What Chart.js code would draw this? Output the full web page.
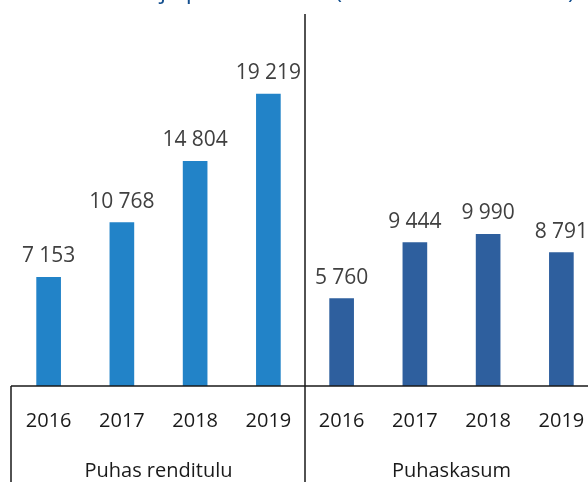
<!DOCTYPE html>
<html>
<head>
<meta charset="utf-8">
<script src="https://cdn.jsdelivr.net/npm/chart.js@4"></script>
<style>
  html, body { margin: 0; padding: 0; background: #fff; overflow: hidden; }
  #wrap { position: relative; width: 612px; height: 482px; }
</style>
</head>
<body>
<div id="wrap"><canvas id="chart" width="612" height="482"></canvas></div>
<script>
const years = ['2016', '2017', '2018', '2019'];
const groups = ['Puhas renditulu', 'Puhaskasum'];
const rentalIncome = [7153, 10768, 14804, 19219];
const netProfit = [5760, 9444, 9990, 8791];
const titleText = 'Puhas renditulu ja puhaskasum (tuhandetes eurodes)';

const colors = ['#2283c8', '#2e5f9e'];
const FONT = '"Open Sans", "Noto Sans", sans-serif';

const labels = years.concat(years);
const values = rentalIncome.concat(netProfit);
const barColors = values.map((_, i) => i < years.length ? colors[0] : colors[1]);

function fmt(v) {
  return String(v).replace(/\B(?=(\d{3})+(?!\d))/g, ' ');
}

const extras = {
  id: 'extras',
  afterDraw(chart) {
    const ctx = chart.ctx;
    const area = chart.chartArea;
    const x = chart.scales.x;
    const H = chart.height;
    ctx.save();

    // value labels
    const meta = chart.getDatasetMeta(0);
    ctx.font = '21px ' + FONT;
    ctx.fillStyle = '#404040';
    ctx.textAlign = 'center';
    ctx.textBaseline = 'alphabetic';
    meta.data.forEach((bar, i) => {
      ctx.fillText(fmt(values[i]), bar.x, bar.y - 15);
    });

    // axis lines
    ctx.strokeStyle = '#1a1a1a';
    ctx.lineWidth = 1.5;
    const sep = (x.getPixelForValue(3) + x.getPixelForValue(4)) / 2;
    ctx.beginPath();
    ctx.moveTo(11, area.bottom);
    ctx.lineTo(chart.width, area.bottom);
    ctx.moveTo(11, area.bottom);
    ctx.lineTo(11, H);
    ctx.moveTo(sep, area.top);
    ctx.lineTo(sep, H);
    ctx.stroke();

    // group labels
    ctx.font = '20px ' + FONT;
    ctx.fillStyle = '#1a1a1a';
    ctx.textBaseline = 'middle';
    groups.forEach((g, gi) => {
      const a = x.getPixelForValue(gi * 4);
      const b = x.getPixelForValue(gi * 4 + 3);
      ctx.fillText(g, (a + b) / 2, 471);
    });

    // clipped title at the top
    ctx.font = '24px ' + FONT;
    ctx.fillStyle = '#15508f';
    ctx.textAlign = 'left';
    ctx.textBaseline = 'alphabetic';
    const lead = ctx.measureText('Puhas renditulu ').width;
    ctx.fillText(titleText, 160 - lead, -2);

    ctx.restore();
  }
};

new Chart(document.getElementById('chart'), {
  type: 'bar',
  data: {
    labels: labels,
    datasets: [{
      data: values,
      backgroundColor: barColors,
      barThickness: 24
    }]
  },
  options: {
    responsive: false,
    animation: false,
    layout: { padding: { left: 12, right: 14, top: 14, bottom: 0 } },
    plugins: {
      legend: { display: false },
      tooltip: { enabled: false },
      title: { display: false }
    },
    scales: {
      x: {
        grid: { display: false },
        border: { display: false },
        ticks: {
          color: '#1a1a1a',
          font: { family: FONT, size: 20 },
          padding: 15,
          maxRotation: 0,
          autoSkip: false
        },
        afterFit(scale) { scale.height = 96; }
      },
      y: {
        display: false,
        min: 0,
        max: 24500
      }
    }
  },
  plugins: [extras]
});
</script>
</body>
</html>
